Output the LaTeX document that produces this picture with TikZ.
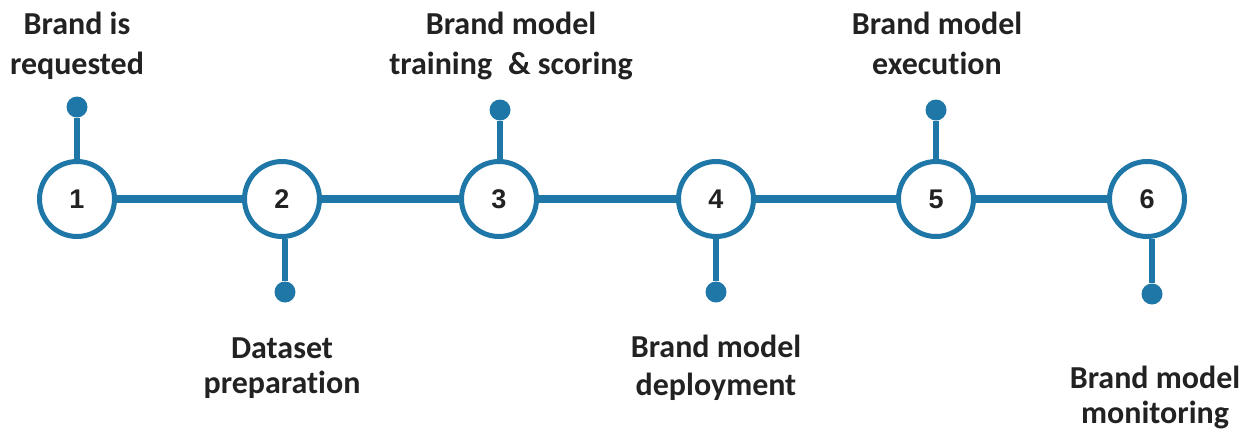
\documentclass[tikz,border=0pt]{standalone}
\usepackage{fontspec}
\setmainfont{Carlito}[Ligatures={NoCommon}]
\newfontfamily\numfont{Liberation Sans}
\definecolor{tlblue}{HTML}{1F77A8}
\definecolor{tltext}{HTML}{222222}
\begin{document}
\begin{tikzpicture}[x=1pt,y=-1pt,
  stepcircle/.style={circle, draw=tlblue, line width=5pt, fill=white, minimum size=75pt, inner sep=0pt,
    font=\numfont\bfseries\fontsize{27}{32}\selectfont, text=tltext},
  stepdot/.style={circle, fill=tlblue, minimum size=21pt, inner sep=0pt},
  mainline/.style={draw=tlblue, line width=7.5pt},
  stemline/.style={draw=tlblue, line width=6.5pt},
  steplabel/.style={align=center, inner sep=0pt, text=tltext, anchor=base,
    font=\bfseries\fontsize{32}{36}\selectfont}]
\useasboundingbox (0,0) rectangle (1256,432);
% circles
\node[stepcircle] (c1) at (77,199) {1};
\node[stepcircle] (c2) at (282,199) {2};
\node[stepcircle] (c3) at (499,199) {3};
\node[stepcircle] (c4) at (716,199) {4};
\node[stepcircle] (c5) at (936,199) {5};
\node[stepcircle] (c6) at (1147,199) {6};
% dots
\node[stepdot] (d1) at (77,107) {};
\node[stepdot] (d2) at (285,292) {};
\node[stepdot] (d3) at (500,110) {};
\node[stepdot] (d4) at (716,292) {};
\node[stepdot] (d5) at (936,110) {};
\node[stepdot] (d6) at (1152,294) {};
% main line
\path[mainline] (c1) -- (c2) (c2) -- (c3) (c3) -- (c4) (c4) -- (c5) (c5) -- (c6);
% stems
\path[stemline] (d1) -- (d1 |- c1.north);
\path[stemline] (d2) -- (d2 |- c2.south);
\path[stemline] (d3) -- (d3 |- c3.north);
\path[stemline] (d4) -- (d4 |- c4.south);
\path[stemline] (d5) -- (d5 |- c5.north);
\path[stemline] (d6) -- (d6 |- c6.south);
% labels (anchor = baseline of last line)
\node[steplabel] (l1) at (77,74) {Brand is\\[4pt]requested};
\node[steplabel] (l2) at (282,393) {Dataset\\[-1pt]preparation};
\node[steplabel] (l3) at (511,74) {Brand model\\[4pt]training\hspace{0.5em}\& scoring};
\node[steplabel] (l4) at (716,395) {Brand model\\[2pt]deployment};
\node[steplabel] (l5) at (937,74) {Brand model\\[4pt]execution};
\node[steplabel] (l6) at (1155,423) {Brand model\\[-1pt]monitoring};
\end{tikzpicture}
\end{document}
